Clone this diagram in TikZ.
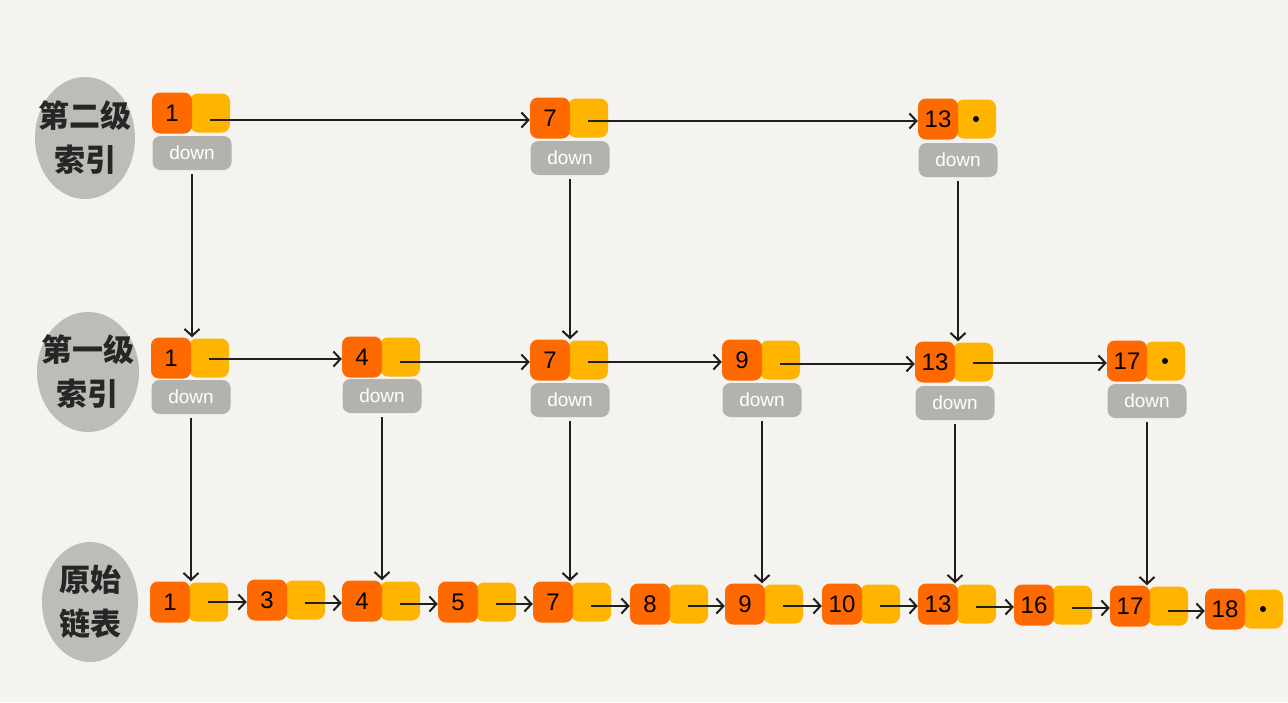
\documentclass[tikz,border=0pt]{standalone}
\usepackage{fontspec}
\setmainfont{Liberation Sans}
\newfontfamily\cjk{Noto Sans CJK SC}
\usetikzlibrary{arrows.meta,shapes.geometric}
\definecolor{bg}{HTML}{F4F3EF}
\definecolor{orng}{HTML}{FF6A00}
\definecolor{ylw}{HTML}{FFB400}
\definecolor{dgray}{HTML}{B4B2AC}
\definecolor{egray}{HTML}{BEBCB6}
\definecolor{txt}{HTML}{262626}
\tikzset{
  ob/.style={fill=orng, rounded corners=8pt, minimum width=40pt, minimum height=41pt, inner sep=0pt, text=black, font=\fontsize{24}{24}\selectfont},
  yb/.style={fill=ylw, rounded corners=8pt, minimum width=40pt, minimum height=39pt, inner sep=0pt},
  dn/.style={fill=dgray, rounded corners=8pt, minimum width=79pt, minimum height=34pt, inner sep=0pt, text=white, font=\fontsize{19}{19}\selectfont},
  blob/.style={ellipse, fill=egray, inner sep=0pt},
  lab/.style={align=center, inner sep=0pt, text=txt, font=\cjk\bfseries\fontsize{31}{44}\selectfont},
  arr/.style={-{Straight Barb[length=7pt,width=15pt,line width=2pt]}, line width=2pt, draw=black!88},
  dotm/.style={circle, fill=black, minimum size=6pt, inner sep=0pt}
}
\newcommand\mkcell[4]{%
  \node[yb] (#1y) at (#2+18,#3) {};
  \node[ob] (#1o) at (#2-20,#3) {#4};
}
\newcommand\mkdown[3]{\node[dn] (#1d) at (#2,#3) {down};}
\begin{document}
\begin{tikzpicture}[x=1pt,y=-1pt]
\fill[bg] (0,0) rectangle (1288,702);
\useasboundingbox (0,0) rectangle (1288,702);

% labels
\node[blob, minimum width=100pt, minimum height=122pt] (L2e) at (85,138) {};
\node[lab] (L2) at (85,138) {第二级\\索引};
\node[blob, minimum width=102pt, minimum height=120pt] (L1e) at (88,372) {};
\node[lab] (L1) at (88,372) {第一级\\索引};
\node[blob, minimum width=96pt, minimum height=120pt] (L0e) at (90,602) {};
\node[lab] (L0) at (90,602) {原始\\链表};

% top row
\mkcell{T1}{192}{113}{1}  \mkdown{T1}{192}{153}
\mkcell{T7}{570}{118}{7}  \mkdown{T7}{570}{158}
\mkcell{T13}{958}{119}{13} \mkdown{T13}{958}{160}
\node[dotm] (T13dot) at (T13y) {};

% middle row
\mkcell{M1}{191}{358}{1}   \mkdown{M1}{191}{397}
\mkcell{M4}{382}{357}{4}   \mkdown{M4}{382}{396}
\mkcell{M7}{570}{360}{7}   \mkdown{M7}{570}{400}
\mkcell{M9}{762}{360}{9}   \mkdown{M9}{762}{400}
\mkcell{M13}{955}{362}{13} \mkdown{M13}{955}{403}
\mkcell{M17}{1147}{361}{17} \mkdown{M17}{1147}{401}
\node[dotm] (M17dot) at (M17y) {};

% bottom row
\mkcell{B1}{190}{602}{1}
\mkcell{B3}{287}{600}{3}
\mkcell{B4}{382}{601}{4}
\mkcell{B5}{478}{602}{5}
\mkcell{B7}{573}{602}{7}
\mkcell{B8}{670}{604}{8}
\mkcell{B9}{765}{604}{9}
\mkcell{B10}{862}{604}{10}
\mkcell{B13}{958}{604}{13}
\mkcell{B16}{1054}{605}{16}
\mkcell{B17}{1150}{606}{17}
\mkcell{B18}{1245}{609}{18}
\node[dotm] (B18dot) at (B18y) {};

% horizontal arrows
\foreach \a/\b in {T1/T7,T7/T13,M1/M4,M4/M7,M7/M9,M9/M13,M13/M17,B1/B3,B3/B4,B4/B5,B5/B7,B7/B8,B8/B9,B9/B10,B10/B13,B13/B16,B16/B17,B17/B18}
  \draw[arr] ([yshift=-2pt]\b o.west -| \a y.center) -- ([yshift=-2pt]\b o.west);

% vertical arrows
\foreach \a/\b in {T1/M1,T7/M7,T13/M13,M1/B1,M4/B4,M7/B7,M9/B9,M13/B13,M17/B17}
  \draw[arr] ([yshift=-4pt]\a d.south) -- (\a d.south |- \b o.north);
\end{tikzpicture}
\end{document}
